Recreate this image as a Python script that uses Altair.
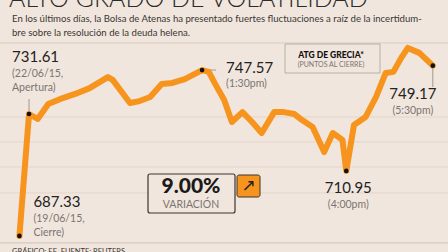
import altair as alt
import pandas as pd

# ---- data ----
minutes = [620, 630, 639, 650, 662, 678, 693, 712, 717, 735, 745, 756, 768, 779,
           792, 810, 817, 823, 833, 841, 852, 862, 872, 885, 895, 906, 914, 925,
           937, 946, 956, 960, 968, 980, 991, 1001, 1009, 1017, 1024, 1036, 1050]
values = [687.33, 731.61, 729.8, 735.2, 737.0, 738.9, 741.0, 745.0, 744.0, 735.6,
          736.3, 737.8, 742.5, 742.9, 744.3, 747.57, 746.9, 742.9, 736.7, 728.7,
          732.3, 728.7, 724.7, 732.3, 732.3, 731.6, 729.4, 726.9, 717.8, 724.7,
          722.2, 710.95, 727.6, 730.5, 737.8, 746.5, 746.9, 751.9, 755.6, 753.8, 749.17]

key_min = [620, 630, 810, 960, 1050]
key_val = [687.33, 731.61, 747.57, 710.95, 749.17]
key_lbl = ["687.33", "731.61", "747.57", "710.95", "749.17"]
key_sub1 = ["(19/06/15,", "(22/06/15,", "(1:30pm)", "(4:00pm)", "(5:30pm)"]
key_sub2 = ["Cierre)", "Apertura)", "", "", ""]

grid_vals = [730.52, 721.45, 712.37, 702.93]
base_val = 684.79

title = "ALTO GRADO DE VOLATILIDAD"
subtitle1 = "En los últimos días, la Bolsa de Atenas ha presentado fuertes fluctuaciones a raíz de la incertidum-"
subtitle2 = "bre sobre la resolución de la deuda helena."
source = "GRÁFICO: EE. FUENTE: REUTERS"

BG = "#f1e6dd"
ORANGE = "#f7941d"
FONT = "Lato"

df = pd.DataFrame({"t": minutes, "v": values})
xs = alt.Scale(domain=[599.8, 1065.8])
ys = alt.Scale(domain=[681.5, 773.0])
X = alt.X("t:Q", scale=xs, axis=None)
Y = alt.Y("v:Q", scale=ys, axis=None)

layers = []

# grid lines
gdf = pd.DataFrame({"v": grid_vals})
layers.append(alt.Chart(gdf).mark_rule(color="#e3d6cb", strokeWidth=1).encode(
    y=Y, x=alt.value(0), x2=alt.value(448)))
layers.append(alt.Chart(pd.DataFrame({"v": [base_val]})).mark_rule(color="#d6c9be", strokeWidth=1.2).encode(
    y=Y, x=alt.value(0), x2=alt.value(448)))

one = pd.DataFrame({"a": [0]})
# separator under subtitle
layers.append(alt.Chart(one).mark_rule(color="#d8cbc0", strokeWidth=1).encode(
    y=alt.value(43), x=alt.value(0), x2=alt.value(448)))

# leader lines
def kp(i):
    return pd.DataFrame({"t": [key_min[i]], "v": [key_val[i]]})

layers.append(alt.Chart(kp(1)).mark_rule(color="#8a8580", strokeWidth=0.8).encode(x=X, y=Y, y2=alt.value(99)))
layers.append(alt.Chart(kp(4)).mark_rule(color="#8a8580", strokeWidth=0.8).encode(x=X, y=Y, y2=alt.value(87)))
layers.append(alt.Chart(kp(2)).mark_rule(color="#8a8580", strokeWidth=0.8).encode(x=X, x2=alt.value(216), y=Y))

# main line
layers.append(alt.Chart(df).mark_line(color=ORANGE, strokeWidth=6, strokeJoin="round", strokeCap="round").encode(
    x=X, y=Y, order="t:Q"))

# key points
kdf = pd.DataFrame({"t": key_min, "v": key_val, "lbl": key_lbl, "s1": key_sub1, "s2": key_sub2})
layers.append(alt.Chart(kdf).mark_circle(color="#111111", size=22, opacity=1).encode(x=X, y=Y))

offs = {
    "687.33": dict(dx=14, dy=-34, align="left", d1=-17, d2=-3),
    "731.61": dict(dx=-17, dy=-57, align="left", d1=-40, d2=-26),
    "747.57": dict(dx=24, dy=-2, align="left", d1=14, d2=28),
    "710.95": dict(dx=2, dy=17, align="center", d1=34, d2=48),
    "749.17": dict(dx=-20, dy=28, align="center", d1=45, d2=59),
}
for i, lbl in enumerate(key_lbl):
    o = offs[lbl]
    row = kdf.iloc[[i]]
    layers.append(alt.Chart(row).mark_text(font=FONT, fontSize=15, color="#222222", align=o["align"],
                                           baseline="middle", dx=o["dx"], dy=o["dy"]).encode(x=X, y=Y, text="lbl:N"))
    layers.append(alt.Chart(row).mark_text(font=FONT, fontSize=10.5, color="#7a7572", align=o["align"],
                                           baseline="middle", dx=o["dx"], dy=o["d1"]).encode(x=X, y=Y, text="s1:N"))
    if key_sub2[i]:
        layers.append(alt.Chart(row).mark_text(font=FONT, fontSize=10.5, color="#7a7572", align=o["align"],
                                               baseline="middle", dx=o["dx"], dy=o["d2"]).encode(x=X, y=Y, text="s2:N"))


def box(x1, x2, y1, y2, fill, stroke, sw=1.0, r=2):
    return alt.Chart(one).mark_rect(fill=fill, stroke=stroke, strokeWidth=sw, cornerRadius=r).encode(
        x=alt.value(x1), x2=alt.value(x2), y=alt.value(y1), y2=alt.value(y2))

def txt(s, x, y, size, color, weight="normal", align="left", font=FONT, baseline="middle"):
    return alt.Chart(one).mark_text(text=s, font=font, fontSize=size, color=color, fontWeight=weight,
                                    align=align, baseline=baseline).encode(x=alt.value(x), y=alt.value(y))

# legend box
layers.append(box(285, 380, 44, 73, BG, "#a9a19b", 0.8, 0))
layers.append(txt("ATG DE GRECIA*", 331, 55, 8.5, "#111111", weight=900, align="center"))
layers.append(txt("(PUNTOS AL CIERRE)", 331, 65, 7, "#7a7572", align="center"))

# variation box
layers.append(box(148, 235, 174, 213, BG, "#3a3633", 1.2, 2))
layers.append(txt("9.00%", 191, 187, 21, "#1a1a1a", weight=900, align="center"))
layers.append(txt("VARIACIÓN", 191, 205, 10.5, "#7a7572", align="center"))
layers.append(box(237, 260, 175, 197, ORANGE, "#3a3633", 1.0, 2))
layers.append(txt("↗", 248.5, 186, 17, "#222222", align="center", font="DejaVu Sans"))

# titles
layers.append(txt(title, 9, 7, 25, "#2b2b2b", weight=300, baseline="alphabetic"))
layers.append(txt(subtitle1, 12, 19, 9.6, "#3a3633"))
layers.append(txt(subtitle2, 12, 33, 9.6, "#3a3633"))
layers.append(txt(source, 12, 248, 7.5, "#3a3633", baseline="top"))

chart = alt.layer(*layers).properties(
    width=448, height=252, background=BG, padding=0,
    autosize=alt.AutoSizeParams(type="none")
).configure_view(stroke=None)

chart.save("out.html", embed_options={"renderer": "svg", "actions": False})
